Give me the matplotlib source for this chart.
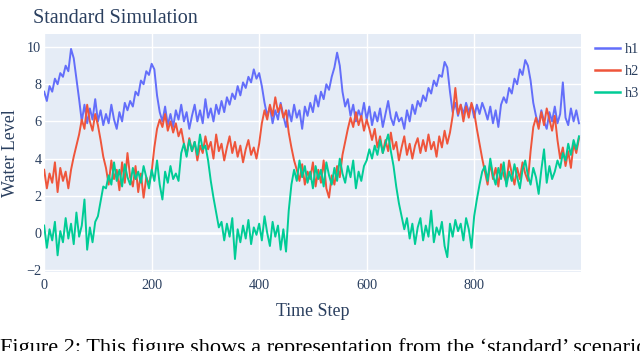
import matplotlib.pyplot as plt
import numpy as np

# time axis: one reading every 5 steps
steps = np.arange(0, 1000, 5)

h1 = [
    7.6, 7.1, 7.9, 7.6, 8.3, 8.0, 8.6, 8.4, 9.0, 8.7, 9.9, 9.4, 8.3, 7.2, 6.0, 6.9, 5.9, 6.7, 6.1, 7.2,
    6.0, 6.6, 5.8, 6.4, 5.9, 6.9, 6.1, 5.6, 6.5, 6.0, 7.0, 6.6, 7.1, 6.8, 7.6, 7.4, 8.2, 8.0, 8.7, 8.5,
    9.1, 8.8, 7.4, 6.5, 6.0, 6.8, 5.8, 6.4, 5.7, 6.6, 6.1, 6.9, 6.0, 6.5, 5.6, 6.3, 6.9, 6.0, 6.6, 5.9,
    7.2, 6.2, 6.7, 6.0, 6.9, 6.4, 7.1, 6.5, 7.3, 6.9, 7.5, 7.2, 7.9, 7.4, 8.1, 7.8, 8.4, 8.1, 8.8, 8.3,
    8.6, 7.9, 7.0, 6.3, 6.8, 5.9, 6.6, 6.1, 7.0, 6.3, 5.7, 6.6, 6.0, 6.9, 6.2, 6.6, 5.6, 6.8, 6.3, 7.0,
    6.5, 7.4, 6.8, 7.6, 7.2, 8.0, 7.7, 8.4, 8.9, 9.7, 9.0, 7.6, 6.8, 7.2, 6.3, 6.9, 6.0, 6.6, 6.2, 7.0,
    6.1, 6.8, 5.8, 6.5, 6.0, 6.7, 5.7, 6.4, 7.1, 6.2, 5.8, 6.5, 6.0, 6.2, 5.6, 6.6, 6.0, 6.9, 6.4, 7.1,
    6.8, 7.4, 7.1, 7.8, 7.5, 8.2, 7.9, 8.5, 8.4, 9.2, 8.9, 7.6, 6.5, 7.0, 6.3, 6.9, 6.4, 7.0, 6.5, 6.9,
    6.2, 6.9, 6.4, 7.0, 6.6, 6.1, 6.8, 5.9, 6.6, 5.7, 6.9, 7.3, 7.0, 7.8, 7.5, 8.3, 8.0, 8.8, 8.5, 9.3,
    9.0, 8.2, 7.0, 6.3, 5.8, 6.6, 6.0, 5.6, 6.5, 6.0, 6.8, 5.9, 6.4, 8.1, 6.2, 5.8, 6.7, 6.0, 6.6, 5.9,
]

h2 = [
    3.4, 2.4, 3.2, 2.7, 3.8, 2.2, 3.5, 2.8, 3.3, 2.4, 3.4, 4.1, 4.7, 5.3, 6.1, 5.6, 6.9, 6.0, 5.5, 6.4,
    5.8, 5.0, 4.1, 3.5, 2.6, 3.9, 2.9, 3.4, 2.3, 3.8, 2.7, 4.3, 3.0, 2.5, 3.6, 2.2, 3.2, 1.9, 3.0, 2.6,
    3.3, 4.6, 5.6, 6.1, 5.7, 6.4, 5.5, 6.0, 5.4, 5.9, 5.2, 5.6, 4.8, 4.2, 5.1, 4.4, 4.9, 3.9, 4.7, 4.3,
    5.2, 4.5, 4.9, 4.0, 5.3, 4.4, 4.8, 3.9, 4.6, 5.2, 4.3, 4.9, 4.1, 4.7, 3.8, 4.5, 5.0, 4.2, 4.6, 4.0,
    4.8, 5.9, 6.6, 6.1, 6.9, 6.3, 7.3, 6.5, 6.9, 6.2, 6.6, 5.4, 4.6, 3.9, 3.4, 2.8, 3.7, 2.6, 3.3, 2.9,
    3.8, 2.5, 3.4, 2.7, 3.9, 2.4, 1.9, 3.1, 2.6, 3.6, 3.0, 4.2, 4.9, 5.6, 6.2, 5.7, 6.5, 5.8, 6.3, 5.5,
    6.1, 5.6, 5.0, 5.6, 4.6, 5.2, 4.3, 5.0, 4.4, 5.4, 4.5, 4.9, 3.9, 4.6, 5.2, 4.2, 4.8, 4.0, 4.7, 5.1,
    4.3, 5.0, 4.4, 5.3, 4.5, 4.9, 4.1, 5.2, 4.6, 5.5, 4.8, 5.4, 6.3, 7.8, 6.4, 6.9, 6.0, 6.8, 6.2, 7.0,
    6.5, 5.6, 4.8, 4.0, 3.3, 2.6, 3.8, 2.9, 3.5, 2.5, 3.7, 3.1, 2.7, 3.9, 3.2, 2.6, 3.5, 2.9, 3.8, 3.2,
    2.8, 4.4, 5.7, 6.2, 5.6, 6.5, 5.8, 6.7, 6.1, 5.5, 6.3, 5.0, 4.0, 4.6, 3.6, 4.4, 3.5, 4.8, 4.3, 5.1,
]

h3 = [
    0.4, -0.8, 0.2, -0.4, 0.6, -1.2, 0.1, -0.5, 0.8, -0.3, 0.5, -0.6, 1.1, -0.2, 0.4, 1.8, -0.9, 0.3, -0.5, 0.6,
    0.9, 1.7, 2.5, 2.4, 3.1, 2.6, 3.8, 2.8, 3.4, 2.5, 3.7, 3.0, 2.6, 3.5, 2.9, 3.3, 2.7, 3.6, 3.0, 2.4,
    3.4, 2.8, 3.9, 2.6, 1.8, 3.3, 2.7, 3.6, 2.9, 3.2, 2.8, 4.3, 4.8, 4.1, 5.0, 4.4, 4.9, 4.2, 5.3, 4.5,
    4.7, 3.9, 2.8, 1.9, 1.1, 0.3, 0.6, -0.4, 0.5, -0.2, 0.8, -1.4, 0.2, -0.5, 0.4, -0.3, 0.7, -0.6, 0.3, -0.1,
    0.5, -0.4, 0.9, 0.0, -0.7, 0.6, -0.2, 0.4, -0.9, 0.2, -1.0, 1.2, 2.6, 3.4, 2.8, 3.9, 3.0, 3.6, 2.7, 3.3,
    2.4, 3.6, 2.9, 3.4, 2.5, 3.8, 3.1, 2.6, 3.5, 2.8, 4.0, 3.2, 2.7, 3.6, 3.0, 3.9, 2.4, 3.3, 2.8, 3.6,
    3.9, 4.5, 4.0, 4.7, 4.2, 5.0, 4.3, 4.8, 5.3, 4.4, 3.6, 2.5, 1.6, 0.9, 0.2, 0.8, -0.3, 0.5, -0.6, 0.3,
    0.8, -0.4, 0.4, -0.2, 1.2, -0.5, 0.3, -0.1, 0.6, -0.7, -1.3, 0.5, -0.2, 0.7, 0.1, 0.5, -0.4, 0.8, 0.2, -0.8,
    0.9, 1.8, 2.6, 3.3, 3.6, 2.8, 4.0, 3.1, 2.6, 3.5, 2.9, 3.8, 2.5, 3.3, 2.8, 3.7, 3.0, 2.4, 3.4, 3.9,
    3.1, 2.6, 3.5, 3.0, 2.1, 3.4, 4.5, 2.7, 3.6, 2.9, 3.3, 3.9, 3.5, 4.3, 3.9, 4.8, 4.2, 5.0, 4.5, 5.2,
]

series = {'h1': h1, 'h2': h2, 'h3': h3}
colors = {'h1': '#636EFA', 'h2': '#EF553B', 'h3': '#00CC96'}

x_ticks = [0, 200, 400, 600, 800]
y_ticks = [-2, 0, 2, 4, 6, 8, 10]

text_color = '#2a3f5f'
plt.rcParams['font.family'] = ['Liberation Serif', 'DejaVu Serif']

fig = plt.figure(figsize=(6.4, 3.51), dpi=100)
ax = fig.add_axes([0.069, 0.225, 0.839, 0.678])
ax.set_facecolor('#E5ECF6')

for name, vals in series.items():
    ax.plot(steps, vals, color=colors[name], lw=1.4, label=name)

ax.set_xlim(0, 999)
ax.set_ylim(-2.1, 10.7)
ax.set_xticks(x_ticks)
ax.set_yticks(y_ticks)
ax.grid(color='white', lw=1.0)
ax.axhline(0, color='white', lw=1.8, zorder=0.9)
ax.set_axisbelow(True)
for s in ax.spines.values():
    s.set_visible(False)
ax.tick_params(length=0, labelsize=10.3, colors=text_color)
ax.tick_params(axis='y', pad=2)
ax.tick_params(axis='x', pad=5)

ax.set_xlabel('Time Step', fontsize=12.9, color=text_color, labelpad=8)
ax.set_ylabel('Water Level', fontsize=12.9, color=text_color)
ax.yaxis.set_label_coords(-0.047, 0.5)

fig.text(0.052, 0.975, 'Standard Simulation', fontsize=14.5, color=text_color,
         ha='left', va='top')

leg = ax.legend(loc='upper left', bbox_to_anchor=(1.009, 1.0), frameon=False,
                fontsize=10.3, handlelength=1.7, handletextpad=0.4, labelspacing=0.6,
                borderaxespad=0.25)
for t in leg.get_texts():
    t.set_color(text_color)
for line in leg.get_lines():
    line.set_linewidth(1.8)

fig.text(0.0, -0.006, "Figure 2: This figure shows a representation from the \u2018standard\u2019 scenario",
         fontsize=16, color='black', ha='left', va='baseline')

fig.savefig('out.png', dpi=100)
